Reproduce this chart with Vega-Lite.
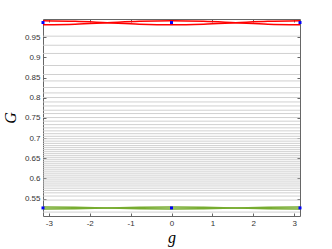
{
  "$schema": "https://vega.github.io/schema/vega-lite/v6.json",
  "width": 257,
  "height": 197,
  "autosize": {"type": "none"},
  "padding": {"left": 43, "top": 19, "right": 32, "bottom": 33},
  "config": {
    "view": {"stroke": null},
    "axis": {
      "labelFont": "Liberation Sans", "labelFontSize": 8, "labelColor": "#333",
      "domainColor": "#666", "tickColor": "#666", "grid": false,
      "titleFont": "Liberation Serif", "titleFontStyle": "italic", "titleFontSize": 16,
      "titleFontWeight": "normal", "titleColor": "#000"
    }
  },
  "datasets": {
    "gray": [
      {"s":1,"g":-3.1416,"G":0.9525},{"s":1,"g":3.1416,"G":0.9525},
      {"s":2,"g":-3.1416,"G":0.930},{"s":2,"g":3.1416,"G":0.930},
      {"s":3,"g":-3.1416,"G":0.9096},{"s":3,"g":3.1416,"G":0.9096},
      {"s":4,"g":-3.1416,"G":0.8798},{"s":4,"g":3.1416,"G":0.8798},
      {"s":5,"g":-3.1416,"G":0.8575},{"s":5,"g":3.1416,"G":0.8575},
      {"s":6,"g":-3.1416,"G":0.8416},{"s":6,"g":3.1416,"G":0.8416},
      {"s":7,"g":-3.1416,"G":0.8253},{"s":7,"g":3.1416,"G":0.8253},
      {"s":8,"g":-3.1416,"G":0.8119},{"s":8,"g":3.1416,"G":0.8119},
      {"s":9,"g":-3.1416,"G":0.8005},{"s":9,"g":3.1416,"G":0.8005},
      {"s":10,"g":-3.1416,"G":0.7895},{"s":10,"g":3.1416,"G":0.7895},
      {"s":11,"g":-3.1416,"G":0.7796},{"s":11,"g":3.1416,"G":0.7796},
      {"s":12,"g":-3.1416,"G":0.769},{"s":12,"g":3.1416,"G":0.769},
      {"s":13,"g":-3.1416,"G":0.7608},{"s":13,"g":3.1416,"G":0.7608},
      {"s":14,"g":-3.1416,"G":0.7509},{"s":14,"g":3.1416,"G":0.7509},
      {"s":15,"g":-3.1416,"G":0.7419},{"s":15,"g":3.1416,"G":0.7419},
      {"s":16,"g":-3.1416,"G":0.7334},{"s":16,"g":3.1416,"G":0.7334},
      {"s":17,"g":-3.1416,"G":0.7254},{"s":17,"g":3.1416,"G":0.7254},
      {"s":18,"g":-3.1416,"G":0.7179},{"s":18,"g":3.1416,"G":0.7179},
      {"s":19,"g":-3.1416,"G":0.7109},{"s":19,"g":3.1416,"G":0.7109},
      {"s":20,"g":-3.1416,"G":0.7044},{"s":20,"g":3.1416,"G":0.7044},
      {"s":21,"g":-3.1416,"G":0.6984},{"s":21,"g":3.1416,"G":0.6984},
      {"s":22,"g":-3.1416,"G":0.6924},{"s":22,"g":3.1416,"G":0.6924},
      {"s":23,"g":-3.1416,"G":0.6869},{"s":23,"g":3.1416,"G":0.6869},
      {"s":24,"g":-3.1416,"G":0.6814},{"s":24,"g":3.1416,"G":0.6814},
      {"s":25,"g":-3.1416,"G":0.6764},{"s":25,"g":3.1416,"G":0.6764},
      {"s":26,"g":-3.1416,"G":0.6714},{"s":26,"g":3.1416,"G":0.6714},
      {"s":27,"g":-3.1416,"G":0.6664},{"s":27,"g":3.1416,"G":0.6664},
      {"s":28,"g":-3.1416,"G":0.6614},{"s":28,"g":3.1416,"G":0.6614},
      {"s":29,"g":-3.1416,"G":0.6564},{"s":29,"g":3.1416,"G":0.6564},
      {"s":30,"g":-3.1416,"G":0.6514},{"s":30,"g":3.1416,"G":0.6514},
      {"s":31,"g":-3.1416,"G":0.6464},{"s":31,"g":3.1416,"G":0.6464},
      {"s":32,"g":-3.1416,"G":0.6414},{"s":32,"g":3.1416,"G":0.6414},
      {"s":33,"g":-3.1416,"G":0.6364},{"s":33,"g":3.1416,"G":0.6364},
      {"s":34,"g":-3.1416,"G":0.6314},{"s":34,"g":3.1416,"G":0.6314},
      {"s":35,"g":-3.1416,"G":0.6264},{"s":35,"g":3.1416,"G":0.6264},
      {"s":36,"g":-3.1416,"G":0.6214},{"s":36,"g":3.1416,"G":0.6214},
      {"s":37,"g":-3.1416,"G":0.6164},{"s":37,"g":3.1416,"G":0.6164},
      {"s":38,"g":-3.1416,"G":0.6114},{"s":38,"g":3.1416,"G":0.6114},
      {"s":39,"g":-3.1416,"G":0.6064},{"s":39,"g":3.1416,"G":0.6064},
      {"s":40,"g":-3.1416,"G":0.6014},{"s":40,"g":3.1416,"G":0.6014},
      {"s":41,"g":-3.1416,"G":0.5964},{"s":41,"g":3.1416,"G":0.5964},
      {"s":42,"g":-3.1416,"G":0.5914},{"s":42,"g":3.1416,"G":0.5914},
      {"s":43,"g":-3.1416,"G":0.5864},{"s":43,"g":3.1416,"G":0.5864},
      {"s":44,"g":-3.1416,"G":0.5814},{"s":44,"g":3.1416,"G":0.5814},
      {"s":45,"g":-3.1416,"G":0.5759},{"s":45,"g":3.1416,"G":0.5759},
      {"s":46,"g":-3.1416,"G":0.5704},{"s":46,"g":3.1416,"G":0.5704},
      {"s":47,"g":-3.1416,"G":0.5644},{"s":47,"g":3.1416,"G":0.5644},
      {"s":48,"g":-3.1416,"G":0.5564},{"s":48,"g":3.1416,"G":0.5564},
      {"s":49,"g":-3.1416,"G":0.5464},{"s":49,"g":3.1416,"G":0.5464},
      {"s":50,"g":-3.1416,"G":0.5167},{"s":50,"g":3.1416,"G":0.5167}
    ],
    "red": [
      {"s":"r1","g":-3.1416,"G":0.9807},{"s":"r1","g":-2.3562,"G":0.9822},{"s":"r1","g":-1.5708,"G":0.9857},
      {"s":"r1","g":-0.7854,"G":0.9892},{"s":"r1","g":0,"G":0.9907},{"s":"r1","g":0.7854,"G":0.9892},
      {"s":"r1","g":1.5708,"G":0.9857},{"s":"r1","g":2.3562,"G":0.9822},{"s":"r1","g":3.1416,"G":0.9807},
      {"s":"r2","g":-3.1416,"G":0.9907},{"s":"r2","g":-2.3562,"G":0.9892},{"s":"r2","g":-1.5708,"G":0.9857},
      {"s":"r2","g":-0.7854,"G":0.9822},{"s":"r2","g":0,"G":0.9807},{"s":"r2","g":0.7854,"G":0.9822},
      {"s":"r2","g":1.5708,"G":0.9857},{"s":"r2","g":2.3562,"G":0.9892},{"s":"r2","g":3.1416,"G":0.9907}
    ],
    "green": [
      {"s":"q1","g":-3.1416,"G":0.5245},{"s":"q1","g":-2.3562,"G":0.5252},{"s":"q1","g":-1.5708,"G":0.527},
      {"s":"q1","g":-0.7854,"G":0.5288},{"s":"q1","g":0,"G":0.5295},{"s":"q1","g":0.7854,"G":0.5288},
      {"s":"q1","g":1.5708,"G":0.527},{"s":"q1","g":2.3562,"G":0.5252},{"s":"q1","g":3.1416,"G":0.5245},
      {"s":"q2","g":-3.1416,"G":0.5295},{"s":"q2","g":-2.3562,"G":0.5288},{"s":"q2","g":-1.5708,"G":0.527},
      {"s":"q2","g":-0.7854,"G":0.5252},{"s":"q2","g":0,"G":0.5245},{"s":"q2","g":0.7854,"G":0.5252},
      {"s":"q2","g":1.5708,"G":0.527},{"s":"q2","g":2.3562,"G":0.5288},{"s":"q2","g":3.1416,"G":0.5295}
    ],
    "blue": [
      {"g":-3.1416,"G":0.9862},{"g":0,"G":0.9862},{"g":3.1416,"G":0.9862},
      {"g":-3.1416,"G":0.527},{"g":0,"G":0.527},{"g":3.1416,"G":0.527}
    ]
  },
  "layer": [
    {
      "data": {"name": "gray"},
      "mark": {"type": "line", "color": "#cbcbcb", "strokeWidth": 0.9},
      "encoding": {
        "x": {"field": "g", "type": "quantitative",
          "scale": {"domain": [-3.1416, 3.1416], "nice": false, "zero": false},
          "axis": {"orient": "bottom", "values": [-3,-2,-1,0,1,2,3], "labelExpr": "toString(datum.value)",
            "tickSize": -3, "labelPadding": 6, "title": "g", "titlePadding": 2}},
        "y": {"field": "G", "type": "quantitative",
          "scale": {"domain": [0.507, 0.995], "nice": false, "zero": false},
          "axis": {"orient": "left", "values": [0.55,0.6,0.65,0.7,0.75,0.8,0.85,0.9,0.95], "format": ".2~f",
            "tickSize": -3, "labelPadding": 6, "title": "G", "titlePadding": 6}},
        "detail": {"field": "s"}
      }
    },
    {
      "data": {"name": "red"},
      "mark": {"type": "line", "color": "#ff0000", "strokeWidth": 1.5, "interpolate": "monotone"},
      "encoding": {
        "x": {"field": "g", "type": "quantitative",
          "scale": {"domain": [-3.1416, 3.1416], "nice": false, "zero": false},
          "axis": {"orient": "top", "values": [-3,-2,-1,0,1,2,3], "labels": false, "tickSize": -3, "title": null}},
        "y": {"field": "G", "type": "quantitative",
          "scale": {"domain": [0.507, 0.995], "nice": false, "zero": false},
          "axis": {"orient": "right", "values": [0.55,0.6,0.65,0.7,0.75,0.8,0.85,0.9,0.95], "labels": false, "tickSize": -3, "title": null}},
        "detail": {"field": "s"}
      }
    },
    {
      "data": {"name": "green"},
      "mark": {"type": "line", "color": "#77ac30", "strokeWidth": 1.5, "interpolate": "monotone"},
      "encoding": {
        "x": {"field": "g", "type": "quantitative", "axis": null},
        "y": {"field": "G", "type": "quantitative", "axis": null},
        "detail": {"field": "s"}
      }
    },
    {
      "data": {"name": "blue"},
      "mark": {"type": "square", "color": "#0000ff", "size": 9, "opacity": 1, "filled": true},
      "encoding": {
        "x": {"field": "g", "type": "quantitative", "axis": null},
        "y": {"field": "G", "type": "quantitative", "axis": null}
      }
    }
  ],
  "resolve": {"axis": {"x": "independent", "y": "independent"}}
}
